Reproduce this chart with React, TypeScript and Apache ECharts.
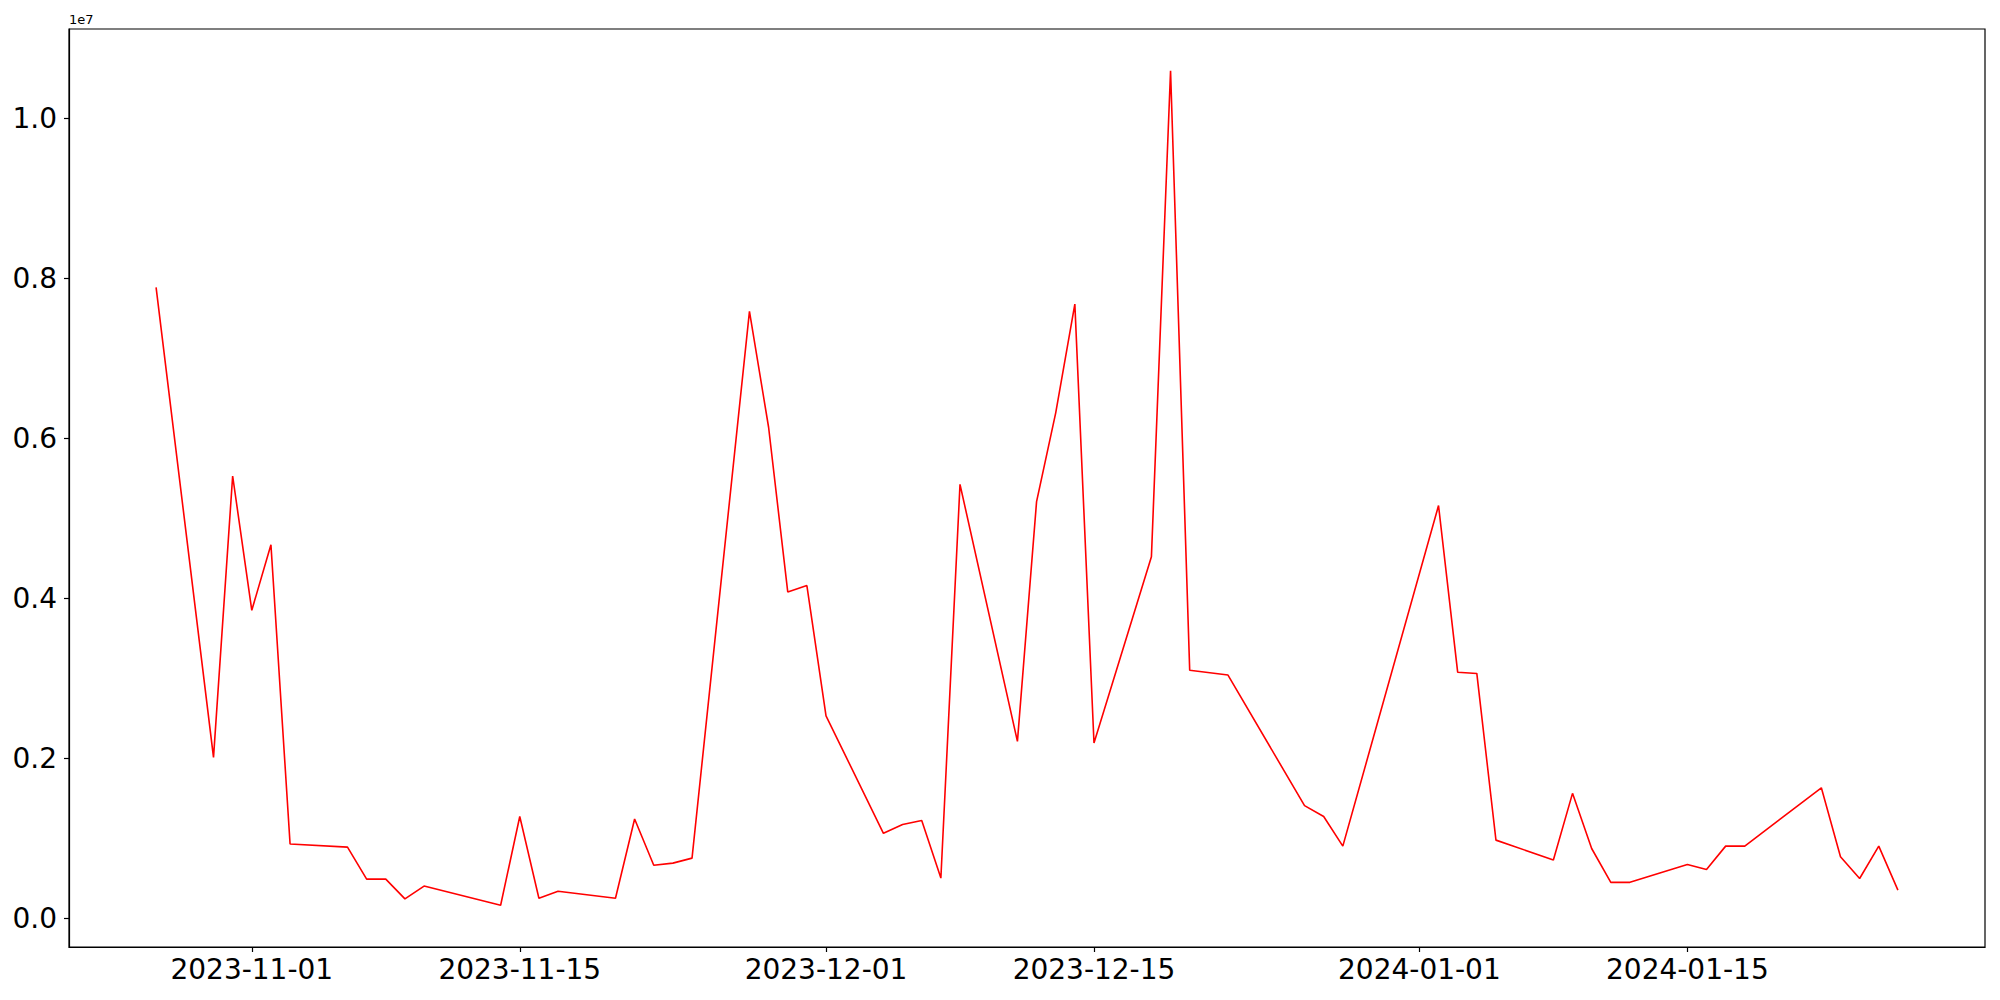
import React, { useEffect, useRef } from "react";
import * as echarts from "echarts";

const dates: string[] = [
  "2023-10-27", "2023-10-30", "2023-10-31", "2023-11-01", "2023-11-02", "2023-11-03",
  "2023-11-06", "2023-11-07", "2023-11-08", "2023-11-09", "2023-11-10", "2023-11-14",
  "2023-11-15", "2023-11-16", "2023-11-17", "2023-11-20", "2023-11-21", "2023-11-22",
  "2023-11-23", "2023-11-24", "2023-11-27", "2023-11-28", "2023-11-29", "2023-11-30",
  "2023-12-01", "2023-12-04", "2023-12-05", "2023-12-06", "2023-12-07", "2023-12-08",
  "2023-12-11", "2023-12-12", "2023-12-13", "2023-12-14", "2023-12-15", "2023-12-18",
  "2023-12-19", "2023-12-20", "2023-12-22", "2023-12-26", "2023-12-27", "2023-12-28",
  "2024-01-02", "2024-01-03", "2024-01-04", "2024-01-05", "2024-01-08", "2024-01-09",
  "2024-01-10", "2024-01-11", "2024-01-12", "2024-01-15", "2024-01-16", "2024-01-17",
  "2024-01-18", "2024-01-22", "2024-01-23", "2024-01-24", "2024-01-25", "2024-01-26",
];

const values: number[] = [
  7890000, 2010000, 5530000, 3850000, 4670000, 927000,
  887000, 487000, 487000, 240000, 400000, 160000,
  1270000, 248000, 336000, 248000, 1240000, 660000,
  687000, 750000, 7590000, 6140000, 4080000, 4160000,
  2530000, 1060000, 1170000, 1220000, 500000, 5425000,
  2210000, 5210000, 6320000, 7680000, 2190000, 4520000,
  10600000, 3100000, 3040000, 1406000, 1270000, 900000,
  5160000, 3076000, 3060000, 975000, 727000, 1560000,
  870000, 447000, 447000, 670000, 607000, 900000,
  900000, 1630000, 767000, 495000, 900000, 350000,
];

const xTickLabels: string[] = [
  "2023-11-01", "2023-11-15", "2023-12-01", "2023-12-15", "2024-01-01", "2024-01-15",
];

const yTickValues: number[] = [0, 2000000, 4000000, 6000000, 8000000, 10000000];

const toMs = (s: string) => {
  const [y, m, d] = s.split("-").map(Number);
  return Date.UTC(y, m - 1, d);
};

const FONT = "DejaVu Sans";

export default function App() {
  const ref = useRef<HTMLDivElement>(null);
  useEffect(() => {
    if (!ref.current) return;
    const chart = echarts.init(ref.current, undefined, { renderer: "svg" });
    const data = dates.map((d, i) => [toMs(d), values[i]]);
    const first = toMs(dates[0]);
    const last = toMs(dates[dates.length - 1]);
    const pad = (last - first) * 0.05;
    const vmin = Math.min(...values);
    const vmax = Math.max(...values);
    const vpad = (vmax - vmin) * 0.05;
    const xTicks = xTickLabels.map(toMs);
    chart.setOption({
      animation: false,
      backgroundColor: "#ffffff",
      grid: {
        left: 69,
        right: 15,
        top: 29,
        bottom: 53,
        show: true,
        borderColor: "#000000",
        borderWidth: 1.2,
        backgroundColor: "transparent",
        containLabel: false,
      },
      xAxis: {
        type: "value",
        min: first - pad,
        max: last + pad,
        splitLine: { show: false },
        axisLine: { show: true, onZero: false, lineStyle: { color: "#000000", width: 1.2 } },
        axisTick: {
          show: true,
          length: 5,
          customValues: xTicks,
          lineStyle: { color: "#000000", width: 1.2 },
        },
        axisLabel: {
          show: true,
          customValues: xTicks,
          fontSize: 28,
          fontFamily: FONT,
          color: "#000000",
          margin: 8,
          formatter: (v: number) => new Date(v).toISOString().slice(0, 10),
        },
      },
      yAxis: {
        type: "value",
        min: vmin - vpad,
        max: vmax + vpad,
        splitLine: { show: false },
        axisLine: { show: true, onZero: false, lineStyle: { color: "#000000", width: 1.2 } },
        axisTick: {
          show: true,
          length: 5,
          customValues: yTickValues,
          lineStyle: { color: "#000000", width: 1.2 },
        },
        axisLabel: {
          show: true,
          customValues: yTickValues,
          fontSize: 28,
          fontFamily: FONT,
          color: "#000000",
          margin: 12,
          formatter: (v: number) => (v / 1e7).toFixed(1),
        },
      },
      graphic: [
        {
          type: "text",
          left: 69,
          top: 13,
          style: {
            text: "1e7",
            fontSize: 13,
            fontFamily: FONT,
            fill: "#000000",
          },
        },
      ],
      series: [
        {
          type: "line",
          data,
          showSymbol: false,
          symbol: "none",
          lineStyle: { color: "#ff0000", width: 1.6 },
          itemStyle: { color: "#ff0000" },
        },
      ],
    });
    return () => chart.dispose();
  }, []);
  return (
    <div
      ref={ref}
      style={{ position: "fixed", left: 0, top: 0, width: 2000, height: 1000, background: "#fff" }}
    />
  );
}
